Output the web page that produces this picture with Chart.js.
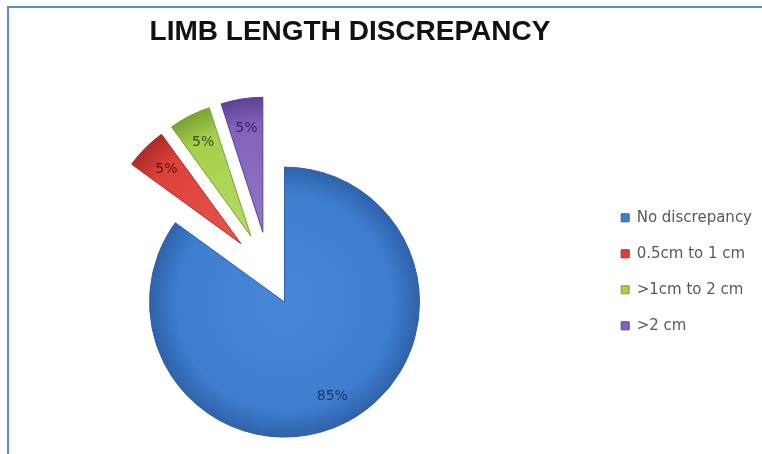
<!DOCTYPE html>
<html>
<head>
<meta charset="utf-8">
<title>Limb length discrepancy</title>
<script src="https://cdn.jsdelivr.net/npm/chart.js"></script>
<style>
  html, body { margin: 0; padding: 0; background: #fff; overflow: hidden; }
  #frame {
    position: absolute; left: 7px; top: 6px; right: 0; bottom: 0;
    border-top: 2px solid #5a8ad0; border-left: 2px solid #5a8ad0;
  }
  /* canvas runs a little past the left edge so the pie sits left of the title centre */
  #chartLimb { position: absolute; left: -62px; top: 0; }
</style>
</head>
<body>
<div id="frame"></div>
<canvas id="chartLimb" width="824" height="454"></canvas>
<script>
var categories = ['No discrepancy', '0.5cm to 1 cm', '>1cm to 2 cm', '>2 cm'];
var percents = [85, 5, 5, 5];

// slice styling
var fills = ['#3d7ecf', '#dc4039', '#a6cf4c', '#8262bb'];
var rims = ['#2f62aa', '#ab2c27', '#7ba131', '#5e4194'];
var highlights = ['#4787d6', '#e8554c', '#b6dc64', '#9176c6'];
var labelColors = ['#1c3766', '#5a1512', '#35520f', '#33245f'];
var explode = [34, 40, 40, 40];

// push every slice out along its middle angle and give it a shaded fill
var explodePlugin = {
  id: 'explodeSlices',
  afterDatasetUpdate: function (chart, args) {
    var ctx = chart.ctx;
    args.meta.data.forEach(function (arc, i) {
      var mid = (arc.startAngle + arc.endAngle) / 2;
      arc.x += Math.cos(mid) * explode[i];
      arc.y += Math.sin(mid) * explode[i];
      var g = ctx.createRadialGradient(arc.x, arc.y, 0, arc.x, arc.y, arc.outerRadius);
      g.addColorStop(0, highlights[i]);
      g.addColorStop(0.8, fills[i]);
      g.addColorStop(1, rims[i]);
      arc.options = Object.assign({}, arc.options, { backgroundColor: g });
    });
  }
};

// percentage text inside each slice
var sliceLabels = {
  id: 'sliceLabels',
  afterDatasetsDraw: function (chart) {
    var ctx = chart.ctx;
    var meta = chart.getDatasetMeta(0);
    ctx.save();
    ctx.font = '14px "DejaVu Sans"';
    ctx.textAlign = 'center';
    ctx.textBaseline = 'middle';
    meta.data.forEach(function (arc, i) {
      var mid = (arc.startAngle + arc.endAngle) / 2;
      var r = arc.outerRadius * 0.78;
      ctx.fillStyle = labelColors[i];
      ctx.fillText(percents[i] + '%', arc.x + Math.cos(mid) * r, arc.y + Math.sin(mid) * r);
    });
    ctx.restore();
  }
};

var chartLimb = new Chart(document.getElementById('chartLimb'), {
  type: 'pie',
  data: {
    labels: categories,
    datasets: [{
      data: percents,
      backgroundColor: fills,
      borderColor: rims,
      borderWidth: 1,
      radius: 135
    }]
  },
  options: {
    responsive: false,
    animation: false,
    events: [],
    devicePixelRatio: 1,
    layout: { padding: 0 },
    plugins: {
      title: {
        display: true,
        text: 'LIMB LENGTH DISCREPANCY',
        color: '#111',
        font: { family: '"Liberation Sans", Arial, sans-serif', size: 28, weight: 'bold', lineHeight: 1.2 },
        padding: { top: 15, bottom: 41 }
      },
      legend: {
        position: 'right',
        fullSize: false,
        labels: {
          boxWidth: 8,
          boxHeight: 8,
          padding: 21,
          color: '#595959',
          font: { family: '"DejaVu Sans"', size: 15 }
        }
      },
      tooltip: { enabled: false }
    }
  },
  plugins: [explodePlugin, sliceLabels]
});
</script>
</body>
</html>
